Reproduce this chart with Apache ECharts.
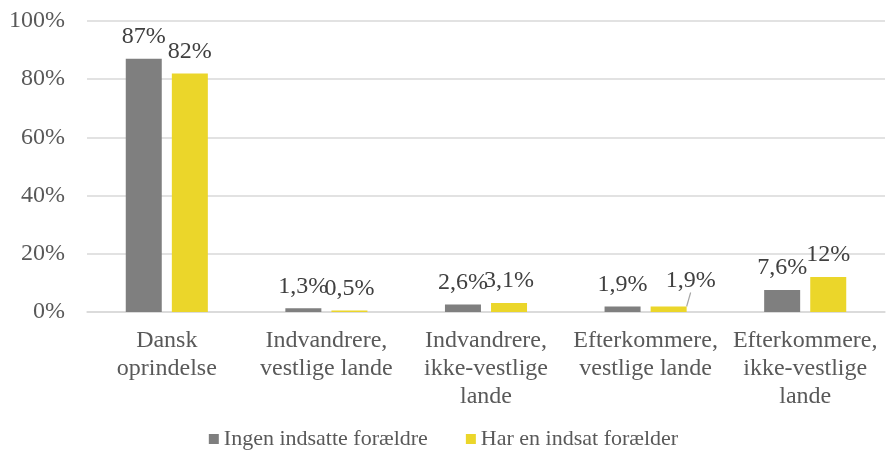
<!DOCTYPE html>
<html>
<head>
<meta charset="utf-8">
<script src="https://cdn.jsdelivr.net/npm/echarts@6/dist/echarts.min.js"></script>
<style>
  html, body { margin: 0; padding: 0; background: #fff; }
  #chart { width: 887px; height: 457px; }
</style>
</head>
<body>
<div id="chart"></div>
<script>
const categories = [
  'Dansk\noprindelse',
  'Indvandrere,\nvestlige lande',
  'Indvandrere,\nikke-vestlige\nlande',
  'Efterkommere,\nvestlige lande',
  'Efterkommere,\nikke-vestlige\nlande'
];
const ingenValues = [87, 1.3, 2.6, 1.9, 7.6];
const harValues = [82, 0.5, 3.1, 1.9, 12];
const yTicks = { min: 0, max: 100, interval: 20 };

const font = '"Liberation Serif", "Times New Roman", serif';
const fmt = v => String(v).replace('.', ',') + '%';

const chart = echarts.init(document.getElementById('chart'));

const labelBase = {
  show: true,
  position: 'top',
  distance: 10,
  color: '#404040',
  fontFamily: font,
  fontSize: 24,
  formatter: p => fmt(p.value)
};

chart.setOption({
  animation: false,
  grid: { left: 87, right: 2, top: 21, bottom: 145 },
  legend: {
    bottom: 2,
    left: 'center',
    itemWidth: 10,
    itemHeight: 10,
    itemGap: 38,
    icon: 'rect',
    textStyle: { color: '#595959', fontFamily: font, fontSize: 22 },
    data: ['Ingen indsatte forældre', 'Har en indsat forælder']
  },
  xAxis: {
    type: 'category',
    data: categories,
    axisTick: { show: false },
    axisLine: { lineStyle: { color: '#d9d9d9', width: 1.5 } },
    axisLabel: {
      color: '#595959',
      fontFamily: font,
      fontSize: 24,
      lineHeight: 28,
      margin: 15,
      interval: 0
    }
  },
  yAxis: {
    type: 'value',
    min: yTicks.min,
    max: yTicks.max,
    interval: yTicks.interval,
    axisLabel: {
      formatter: '{value}%',
      color: '#595959',
      fontFamily: font,
      fontSize: 24,
      margin: 22
    },
    axisLine: { show: false },
    axisTick: { show: false },
    splitLine: { lineStyle: { color: '#d9d9d9', width: 1.5 } }
  },
  series: [
    {
      name: 'Ingen indsatte forældre',
      type: 'bar',
      data: ingenValues,
      barWidth: 36,
      barGap: '28%',
      itemStyle: { color: '#7f7f7f' },
      label: labelBase
    },
    {
      name: 'Har en indsat forælder',
      type: 'bar',
      data: harValues.map((v, i) => i === 3
        ? { value: v, labelLine: { show: true, lineStyle: { color: '#a6a6a6', width: 1.2 } } }
        : v),
      barWidth: 36,
      itemStyle: { color: '#ebd62a' },
      label: labelBase,
      labelLayout: p => p.dataIndex === 3 ? { dx: 22, dy: -4 } : {}
    }
  ]
});
</script>
</body>
</html>
